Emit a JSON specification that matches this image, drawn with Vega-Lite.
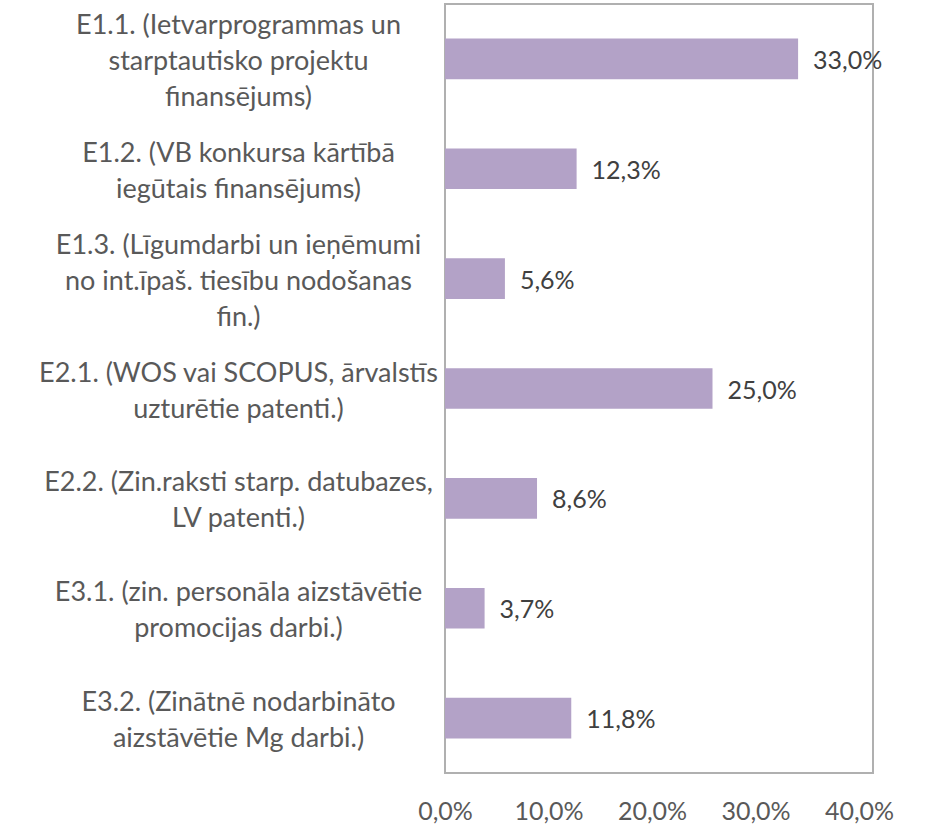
{
  "$schema": "https://vega.github.io/schema/vega-lite/v6.json",
  "autosize": {"type": "none"},
  "padding": {"left": 445, "top": 4, "right": 65, "bottom": 51},
  "width": 428,
  "height": 769,
  "background": "white",
  "config": {
    "locale": {"number": {"decimal": ",", "thousands": " ", "grouping": [3], "currency": ["", " €"]}},
    "view": {"stroke": "#b0b0b0", "strokeWidth": 2},
    "font": "Lato"
  },
  "data": {
    "values": [
      {"label": "E1.1. (Ietvarprogrammas un|starptautisko projektu|finansējums)", "value": 0.330},
      {"label": "E1.2. (VB konkursa kārtībā|iegūtais finansējums)", "value": 0.123},
      {"label": "E1.3. (Līgumdarbi un ieņēmumi|no int.īpaš. tiesību nodošanas|fin.)", "value": 0.056},
      {"label": "E2.1. (WOS vai SCOPUS, ārvalstīs|uzturētie patenti.)", "value": 0.250},
      {"label": "E2.2. (Zin.raksti starp. datubazes,|LV patenti.)", "value": 0.086},
      {"label": "E3.1. (zin. personāla aizstāvētie|promocijas darbi.)", "value": 0.037},
      {"label": "E3.2. (Zinātnē nodarbināto|aizstāvētie Mg darbi.)", "value": 0.118}
    ]
  },
  "encoding": {
    "y": {
      "field": "label",
      "type": "nominal",
      "sort": null,
      "title": null,
      "scale": {"paddingInner": 0.63, "paddingOuter": 0.315},
      "axis": {
        "domain": false,
        "ticks": false,
        "labelExpr": "split(datum.label, '|')",
        "labelAlign": "center",
        "labelBaseline": "middle",
        "labelPadding": 207,
        "labelLimit": 600,
        "labelFontSize": 27,
        "labelLineHeight": 36,
        "labelColor": "#595959",
        "labelFont": "Lato",
        "labelOffset": {"expr": "3 - (length(split(datum.label, '|')) - 1) * 18"}
      }
    },
    "x": {
      "field": "value",
      "type": "quantitative",
      "title": null,
      "scale": {"domain": [0, 0.4], "nice": false},
      "axis": {
        "values": [0, 0.1, 0.2, 0.3, 0.4],
        "format": ".1%",
        "domain": false,
        "ticks": false,
        "grid": false,
        "labelFlush": false,
        "labelPadding": 26,
        "labelFontSize": 25,
        "labelColor": "#595959",
        "labelFont": "Lato",
        "labelOffset": {"expr": "-datum.value*35"}
      }
    }
  },
  "layer": [
    {"mark": {"type": "bar", "color": "#b3a2c7"}},
    {
      "mark": {"type": "text", "align": "left", "baseline": "middle", "dx": 15, "dy": 2, "fontSize": 25, "color": "#404040", "font": "Lato"},
      "encoding": {"text": {"field": "value", "type": "quantitative", "format": ".1%"}}
    }
  ]
}
